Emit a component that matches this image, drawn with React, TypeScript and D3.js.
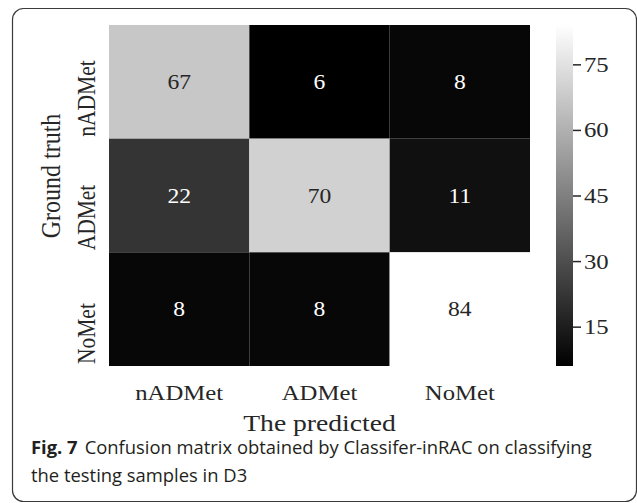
import React, { useEffect, useRef } from 'react';
import * as d3 from 'd3';

const predicted = ['nADMet', 'ADMet', 'NoMet'];
const truth = ['nADMet', 'ADMet', 'NoMet'];
const counts = [
    [67, 6, 8],
    [22, 70, 11],
    [8, 8, 84],
];
const barTicks = [15, 30, 45, 60, 75];
const captionBold = 'Fig. 7';
const captionLines = [
    'Confusion matrix obtained by Classifer-inRAC on classifying',
    'the testing samples in D3',
];

const W = 637, H = 503;
const serif = '"Liberation Serif", "DejaVu Serif", serif';
const sans = '"Open Sans", "Noto Sans", sans-serif';
// the figure in the paper is a bit wider than it was drawn
const sx = 1.15;

const App = () => {
    const ref = useRef(null);

    useEffect(() => {
        const svg = d3.select(ref.current);
        svg.selectAll('*').remove();

        const left = 109, right = 530, top = 25, bottom = 366;

        const x = d3.scaleBand().domain(predicted).range([left, right]);
        const y = d3.scaleBand().domain(truth).range([top, bottom]);

        const lo = d3.min(counts.flat()), hi = d3.max(counts.flat());
        const color = d3.scaleLinear().domain([lo, hi]).range(['#000000', '#ffffff']);

        const label = (g, px, py, size, txt, rot = 0, anchor = 'middle') =>
            g.append('text')
                .attr('transform', `translate(${px},${py}) scale(${sx},1) rotate(${rot})`)
                .attr('dy', '0.35em')
                .attr('text-anchor', anchor)
                .attr('font-family', serif)
                .attr('font-size', size)
                .attr('fill', '#262626')
                .text(txt);

        // frame
        svg.append('rect')
            .attr('x', 12.5).attr('y', 8.5)
            .attr('width', 624).attr('height', 493)
            .attr('rx', 11)
            .attr('fill', 'none')
            .attr('stroke', '#3a3a3a')
            .attr('stroke-width', 1.2);

        const cells = [];
        counts.forEach((row, i) => row.forEach((v, j) => cells.push({ r: truth[i], c: predicted[j], v })));

        svg.append('g').selectAll('rect').data(cells).enter()
            .append('rect')
            .attr('x', d => x(d.c))
            .attr('y', d => y(d.r))
            .attr('width', x.bandwidth())
            .attr('height', y.bandwidth())
            .attr('fill', d => color(d.v));

        const ann = svg.append('g');
        cells.forEach(d => {
            label(ann, x(d.c) + x.bandwidth() / 2, y(d.r) + y.bandwidth() / 2, 20.5, d.v)
                .attr('fill', (d.v - lo) / (hi - lo) > 0.5 ? '#262626' : '#ffffff');
        });

        // x tick labels + title
        const xl = svg.append('g');
        predicted.forEach(d => label(xl, x(d) + x.bandwidth() / 2, 392, 21.5, d));
        label(svg, (left + right) / 2, 423, 24, 'The predicted');

        // y tick labels (their start sits at the row's lower edge)
        const yl = svg.append('g');
        truth.forEach(d => label(yl, 86, y(d) + y.bandwidth() - 2, 21.5, d, -90, 'start'));
        label(svg, 50, 176, 24, 'Ground truth', -90);

        // colorbar
        const cbX = 556, cbW = 17;
        const cy = d3.scaleLinear().domain([lo, hi]).range([bottom, top]);
        const defs = svg.append('defs');
        const grad = defs.append('linearGradient')
            .attr('id', 'cbgrad').attr('x1', 0).attr('y1', 1).attr('x2', 0).attr('y2', 0);
        grad.append('stop').attr('offset', 0).attr('stop-color', color(lo));
        grad.append('stop').attr('offset', 1).attr('stop-color', color(hi));
        svg.append('rect')
            .attr('x', cbX).attr('y', top)
            .attr('width', cbW).attr('height', bottom - top)
            .attr('fill', 'url(#cbgrad)');

        const axis = svg.append('g')
            .attr('transform', `translate(${cbX + cbW},0)`)
            .call(d3.axisRight(cy).tickValues(barTicks).tickSize(8).tickFormat(() => ''));
        axis.select('.domain').remove();
        axis.selectAll('line').attr('stroke', '#262626').attr('stroke-width', 1.5);
        const cl = svg.append('g');
        barTicks.forEach(t => label(cl, cbX + cbW + 11, cy(t), 21.5, t, 0, 'start'));

        // caption
        const cap = svg.append('text')
            .attr('x', 31).attr('y', 454)
            .attr('font-family', sans)
            .attr('font-size', 18.4)
            .attr('fill', '#231f20');
        cap.append('tspan').attr('font-weight', 'bold').text(captionBold);
        cap.append('tspan').attr('dx', 7).text(captionLines[0]);
        svg.append('text')
            .attr('x', 31).attr('y', 482)
            .attr('font-family', sans)
            .attr('font-size', 18.4)
            .attr('fill', '#231f20')
            .text(captionLines[1]);
    }, []);

    return (
        <svg ref={ref} width={W} height={H} style={{ position: 'absolute', left: 0, top: 0, background: '#fff' }} />
    );
};

export default App;
